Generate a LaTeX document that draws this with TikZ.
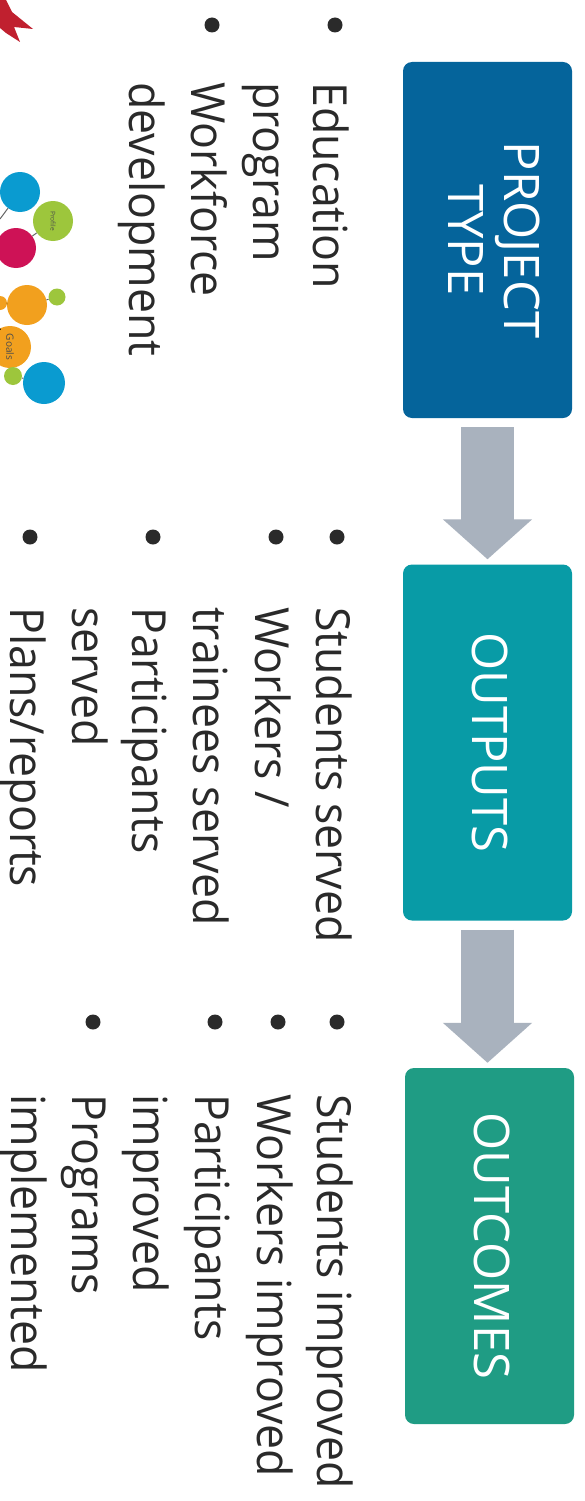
\documentclass[tikz,border=0pt]{standalone}
\usepackage{fontspec}
\usetikzlibrary{calc,arrows.meta}
\setmainfont{Open Sans}
\newfontfamily\bodyfont{Open Sans}[FakeStretch=0.95]
\definecolor{boxa}{HTML}{05649B}
\definecolor{boxb}{HTML}{089BA6}
\definecolor{boxc}{HTML}{1F9C84}
\definecolor{arrowgray}{HTML}{A9B2BE}
\definecolor{txt}{HTML}{2A2A2A}
\definecolor{cblue}{HTML}{0A9BD0}
\definecolor{cgreen}{HTML}{9DC63C}
\definecolor{cmag}{HTML}{CE1256}
\definecolor{corange}{HTML}{F2A01E}
\definecolor{leaf}{HTML}{C0202F}
\tikzset{
  x=1pt,y=-1pt,
  stage/.style={draw=none,rounded corners=9pt,minimum width=356pt,minimum height=169pt,rotate=-90,text=white,font=\fontsize{49}{56}\selectfont,align=center,inner sep=0pt},
  line/.style={rotate=-90,anchor=base west,inner sep=0pt,text=txt,font=\bodyfont\fontsize{47}{49}\selectfont},
  bul/.style={circle,fill=txt,inner sep=0pt,minimum size=15pt},
  flow/.style={draw=arrowgray,line width=53pt,-{Triangle[width=87pt,length=40pt,fill=arrowgray]}},
  bub/.style={circle,inner sep=0pt,rotate=-90,text=black!70,font=\fontsize{6.5}{7}\selectfont},
  link/.style={draw=black!60,line width=1pt},
}
\begin{document}
\begin{tikzpicture}
\useasboundingbox (0,0) rectangle (584,1501);
\fill[white] (0,0) rectangle (584,1501);
% leaf
\fill[leaf] (0,0) -- (6,0) -- (12,12) -- (33,29) -- (14,27) -- (20,42) -- (6,33) -- (0,28) -- cycle;
% stage boxes
\node[stage,fill=boxa] (ptype) at (487.5,240) {\raisebox{4pt}{\begin{tabular}{@{}c@{}}PROJECT\\TYPE\end{tabular}}};
\node[stage,fill=boxb] (outs) at (487.5,742.5) {\raisebox{6pt}{OUTPUTS}};
\node[stage,fill=boxc] (outc) at (489.5,1246) {\raisebox{5pt}{OUTCOMES}};
% flow arrows
\draw[flow] ($(ptype.east)+(0,9)$) -- ($(outs.west)+(0,-5)$);
\draw[flow] ($(outs.east)+(0,9)$) -- ($(outc.west)+(-2,-5)$);
% column 1
\node[bul] (b11) at (335,25) {};
\node[bul] (b12) at (212,25) {};
\node[line] (t11) at (313,82) {Education};
\node[line] (t12) at (253,82) {program};
\node[line] (t13) at (191,82) {Workforce};
\node[line] (t14) at (129,82) {development};
% column 2
\node[bul] (b21) at (337,537) {};
\node[bul] (b22) at (276,537) {};
\node[bul] (b23) at (153,537) {};
\node[bul] (b24) at (30,537) {};
\node[line] (t21) at (316,607) {Students served};
\node[line] (t22) at (255,607) {Workers /};
\node[line] (t23) at (193,607) {trainees served};
\node[line] (t24) at (132,607) {Participants};
\node[line] (t25) at (72,607) {served};
\node[line] (t26) at (10,607) {Plans/reports};
% column 3
\node[bul] (b31) at (337,1022) {};
\node[bul] (b32) at (278,1022) {};
\node[bul] (b33) at (215,1022) {};
\node[bul] (b34) at (93,1022) {};
\node[line] (t31) at (317,1094) {Students improved};
\node[line] (t32) at (257,1094) {Workers improved};
\node[line] (t33) at (195,1094) {Participants};
\node[line] (t34) at (133,1094) {improved};
\node[line] (t35) at (72,1094) {Programs};
\node[line] (t36) at (11,1094) {implemented};
% bubbles
\node[bub,fill=cblue,minimum size=40pt] (c1) at (20,192) {};
\node[bub,fill=cgreen,minimum size=40pt] (c2) at (53,221) {Profile};
\node[bub,fill=cmag,minimum size=40pt] (c3) at (16,248) {};
\node[bub,fill=corange,minimum size=40pt] (c4) at (27,305) {};
\node[bub,fill=cgreen,minimum size=17pt] (c5) at (57,297) {};
\node[bub,fill=corange,minimum size=14pt] (c6) at (0,303) {};
\node[bub,fill=corange,minimum size=42pt,font=\fontsize{10}{11}\selectfont] (c7) at (10,347) {Goals};
\node[bub,fill=cgreen,minimum size=18pt] (c8) at (13,376) {};
\node[bub,fill=cblue,minimum size=42pt] (c9) at (44,383) {};
\coordinate (k1) at (0,219);
\draw[link] (c1) -- (k1);
\draw[link] (c2) -- (c3);
\draw[link] (c4) -- (c5);
\draw[link] (c8) -- (c9);
\coordinate (k2) at (0,330);
\draw[link,line width=2pt,draw=black] (k2) -- (c7);
\draw[link,line width=2pt,draw=black] (c6) -- (c4);
\end{tikzpicture}
\end{document}
